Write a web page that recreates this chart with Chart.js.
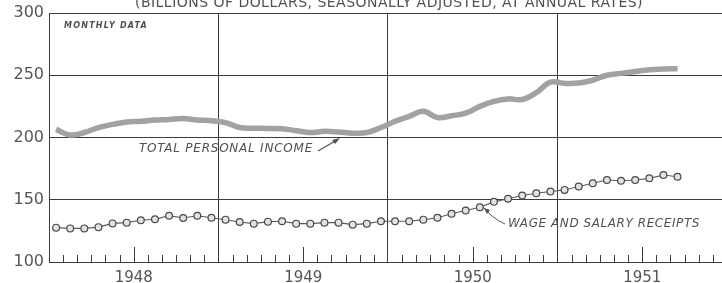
<!DOCTYPE html>
<html>
<head>
<meta charset="utf-8">
<script src="https://cdn.jsdelivr.net/npm/chart.js@4/dist/chart.umd.min.js"></script>
<style>
  html, body { margin: 0; padding: 0; background: #fff; overflow: hidden; width: 722px; height: 283px; }
  canvas { display: block; }
</style>
</head>
<body>
<canvas id="chart" width="725" height="283"></canvas>
<script>
// Monthly data, Jan 1948 .. Sep 1951 (billions of dollars, annual rates)
const years = ['1948', '1949', '1950', '1951'];
const yTicks = [100, 150, 200, 250, 300];

const totalIncome = [
    206.5, 202, 204, 208, 210.5, 212.5, 213, 214, 214.5, 215.3, 214, 213.5,
    212, 208, 207.5, 207.3, 207, 205.5, 204, 205, 204.4, 203.5, 204, 208,
    213, 217, 221, 216, 217.5, 219.5, 225, 229, 231, 230.5, 236, 244.5,
    243.5, 243.7, 246, 250, 251.5, 253, 254.5, 255, 255.3
];

const wageSalary = [
    127.6, 127, 127, 128, 131, 131.6, 133.5, 134.3, 137.2, 135.3, 137.2, 135.6,
    134, 132.1, 130.8, 132.4, 132.7, 130.8, 130.8, 131.6, 131.6, 130, 130.8, 132.7,
    132.7, 132.7, 134, 135.6, 138.8, 141.4, 144, 148.3, 150.8, 153.4, 155.2, 156.6,
    157.9, 160.6, 163.2, 165.9, 165.3, 165.9, 167.2, 169.9, 168.5
];

const ink = '#3c3c3c';
const toPoints = arr => arr.map((v, i) => ({ x: i + 0.5, y: v }));

// month tick marks along the bottom, tall one at mid-year
const monthTicks = {
    id: 'monthTicks',
    afterDatasetsDraw(chart) {
        const { ctx, chartArea, scales } = chart;
        ctx.save();
        ctx.strokeStyle = ink;
        ctx.lineWidth = 1;
        for (let m = 1; m < 48; m++) {
            if (m % 12 === 0) continue;
            const px = Math.round(scales.x.getPixelForValue(m)) + 0.5;
            if (px > chartArea.right) break;
            const len = m % 12 === 6 ? 15 : 7;
            ctx.beginPath();
            ctx.moveTo(px, chartArea.bottom);
            ctx.lineTo(px, chartArea.bottom - len);
            ctx.stroke();
        }
        ctx.restore();
    }
};

// titles and hand lettered labels
const notes = {
    id: 'notes',
    afterDraw(chart) {
        const { ctx, scales } = chart;
        ctx.save();

        // the original has no frame on the right: keep the edge open
        ctx.fillStyle = '#fff';
        const py = yTicks.map(v => Math.round(scales.y.getPixelForValue(v))).sort((a, b) => a - b);
        for (let i = 0; i < py.length - 1; i++) {
            ctx.fillRect(719, py[i] + 1, 10, py[i + 1] - py[i] - 2);
        }

        ctx.fillStyle = '#505050';
        ctx.strokeStyle = '#505050';
        ctx.textBaseline = 'alphabetic';

        const spaced = (text, x, y, font, width) => {
            ctx.font = font;
            ctx.letterSpacing = '0px';
            const w = ctx.measureText(text).width;
            ctx.letterSpacing = Math.max(0, (width - w) / text.length) + 'px';
            ctx.fillText(text, x, y);
            ctx.letterSpacing = '0px';
        };

        spaced('(BILLIONS OF DOLLARS, SEASONALLY ADJUSTED, AT ANNUAL RATES)', 135, 7,
            '14px "DejaVu Sans"', 508);
        spaced('MONTHLY DATA', 64, 28, 'italic bold 8px "DejaVu Sans"', 84);
        spaced('TOTAL PERSONAL INCOME', 139, 152, 'italic 12px "DejaVu Sans"', 174);
        spaced('WAGE AND SALARY RECEIPTS', 508, 227, 'italic 12px "DejaVu Sans"', 192);

        // arrow to total personal income
        ctx.lineWidth = 1.2;
        ctx.beginPath();
        ctx.moveTo(318, 151);
        ctx.lineTo(337, 140);
        ctx.stroke();
        ctx.beginPath();
        ctx.moveTo(340, 138);
        ctx.lineTo(332, 140);
        ctx.lineTo(335, 144);
        ctx.closePath();
        ctx.fill();

        // leader to wage and salary receipts
        ctx.lineWidth = 1;
        ctx.beginPath();
        ctx.moveTo(483, 207);
        ctx.quadraticCurveTo(492, 218, 505, 224);
        ctx.stroke();
        ctx.beginPath();
        ctx.moveTo(484, 208);
        ctx.lineTo(490, 210);
        ctx.lineTo(487, 214);
        ctx.closePath();
        ctx.fill();
        ctx.restore();
    }
};

new Chart(document.getElementById('chart'), {
    type: 'line',
    data: {
        datasets: [
            {
                data: toPoints(totalIncome),
                borderColor: '#a2a2a2',
                borderWidth: 5.5,
                pointRadius: 0,
                tension: 0.4
            },
            {
                data: toPoints(totalIncome),
                borderColor: '#d6d6d6',
                borderWidth: 2.5,
                pointRadius: 0,
                tension: 0.4
            },
            {
                data: toPoints(wageSalary),
                borderColor: '#5a5a5a',
                borderWidth: 1.1,
                pointRadius: 3.4,
                pointBorderWidth: 1.2,
                pointBorderColor: '#4a4a4a',
                pointBackgroundColor: '#e2e2e2',
                tension: 0
            }
        ]
    },
    options: {
        responsive: false,
        animation: false,
        layout: { autoPadding: false, padding: { top: 7, left: 0, right: 0, bottom: 0 } },
        plugins: { legend: { display: false }, tooltip: { enabled: false } },
        scales: {
            x: {
                type: 'linear',
                min: 0,
                max: 47.86,
                afterBuildTicks: s => {
                    s.ticks = [0, 6, 12, 18, 24, 30, 36, 42].map(v => ({ value: v }));
                },
                afterFit: s => { s.height = 21; },
                grid: {
                    color: c => (c.tick && c.tick.value % 12 === 0) ? ink : 'rgba(0,0,0,0)',
                    lineWidth: 1,
                    drawTicks: false
                },
                border: { display: false },
                ticks: {
                    autoSkip: false,
                    maxRotation: 0,
                    padding: 7,
                    color: '#555',
                    font: { family: 'DejaVu Sans', size: 15 },
                    callback: v => v % 12 === 6 ? years[(v - 6) / 12] : ''
                }
            },
            y: {
                min: 100,
                max: 300,
                afterBuildTicks: s => {
                    s.ticks = yTicks.map(v => ({ value: v }));
                },
                afterFit: s => { s.width = 49; },
                grid: { color: ink, lineWidth: 1, drawTicks: false },
                border: { display: false },
                ticks: {
                    padding: 5,
                    color: '#555',
                    font: { family: 'DejaVu Sans', size: 16, lineHeight: 1 }
                }
            }
        }
    },
    plugins: [monthTicks, notes]
});
</script>
</body>
</html>
